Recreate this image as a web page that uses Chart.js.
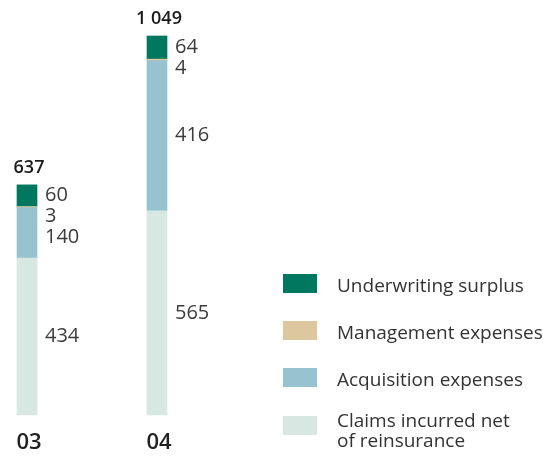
<!DOCTYPE html>
<html>
<head>
<meta charset="utf-8">
<script src="https://cdn.jsdelivr.net/npm/chart.js@4"></script>
<style>
  html, body { margin: 0; padding: 0; background: #fff; }
  #wrap { position: relative; width: 543px; height: 456px; }
  #legend {
    position: absolute; left: 283px; top: 0; width: 260px; height: 456px;
    font-family: "Open Sans", sans-serif; font-size: 19px; color: #333;
  }
  .swatch { position: absolute; left: 0; width: 34px; height: 19px; }
  .txt { position: absolute; left: 54px; line-height: 20px; white-space: pre; }
</style>
</head>
<body>
<div id="wrap">
  <canvas id="chart"></canvas>
  <div id="legend"></div>
</div>
<script>
// Data
const categories = ['03', '04'];
const claims = [434, 565];
const acquisition = [140, 416];
const management = [3, 4];
const surplus = [60, 64];

const seriesNames = ['Claims incurred net\nof reinsurance', 'Acquisition expenses', 'Management expenses', 'Underwriting surplus'];
const seriesColors = ['#d7e8e3', '#96c3cf', '#dcc79f', '#00785f'];

const totals = categories.map((c, i) => claims[i] + acquisition[i] + management[i] + surplus[i]);

function fmt(n) {
  return String(n).replace(/\B(?=(\d{3})+(?!\d))/g, ' ');
}

// Legend (top to bottom = reverse stack order)
const legend = document.getElementById('legend');
seriesNames.slice().reverse().forEach((name, row) => {
  const k = seriesNames.length - 1 - row;
  const top = 274 + row * 47.2;
  const sw = document.createElement('div');
  sw.className = 'swatch';
  sw.style.top = top + 'px';
  sw.style.background = seriesColors[k];
  const tx = document.createElement('div');
  tx.className = 'txt';
  // two-line labels sit a little higher than the swatch
  tx.style.top = (top + (name.includes('\n') ? -6 : 1)) + 'px';
  tx.textContent = name;
  legend.appendChild(sw);
  legend.appendChild(tx);
});

// Labels next to segments, totals on top, years below
const labelsPlugin = {
  id: 'labels',
  afterDatasetsDraw(chart) {
    const ctx = chart.ctx;
    ctx.save();
    categories.forEach((cat, i) => {
      // walk segments from top to bottom so small ones don't collide
      let prev = -Infinity;
      for (let d = chart.data.datasets.length - 1; d >= 0; d--) {
        const bar = chart.getDatasetMeta(d).data[i];
        let y = (bar.y + bar.base) / 2;
        if (y < prev + 21) y = prev + 21;
        prev = y;
        ctx.font = '20px "Open Sans"';
        ctx.fillStyle = '#3c3c3c';
        ctx.textAlign = 'left';
        ctx.textBaseline = 'middle';
        ctx.fillText(String(chart.data.datasets[d].data[i]), bar.x + bar.width / 2 + 8, y);
      }
      const top = chart.getDatasetMeta(chart.data.datasets.length - 1).data[i];
      ctx.font = '600 18px "Open Sans"';
      ctx.fillStyle = '#1a1a1a';
      ctx.textAlign = 'center';
      ctx.textBaseline = 'alphabetic';
      ctx.fillText(fmt(totals[i]), top.x + 2, top.y - 12);

      ctx.font = '600 22px "Open Sans"';
      ctx.fillStyle = '#222';
      ctx.fillText(cat, top.x + 2, 449);
    });
    ctx.restore();
  }
};

const ctx = document.getElementById('chart').getContext('2d');
new Chart(ctx, {
  type: 'bar',
  data: {
    labels: categories,
    datasets: [claims, acquisition, management, surplus].map((values, k) => ({
      label: seriesNames[k],
      data: values,
      backgroundColor: seriesColors[k],
      borderWidth: 0,
      barThickness: 20,
      stack: 'total',
      clip: false
    }))
  },
  options: {
    responsive: true,
    maintainAspectRatio: false,
    animation: false,
    layout: {
      padding: { left: 27, right: 386, top: 36, bottom: 41 }
    },
    scales: {
      x: { stacked: true, display: false, offset: false },
      y: { stacked: true, display: false, min: 0, max: Math.max(...totals) }
    },
    plugins: {
      legend: { display: false },
      tooltip: { enabled: false }
    }
  },
  plugins: [labelsPlugin]
});
</script>
</body>
</html>
